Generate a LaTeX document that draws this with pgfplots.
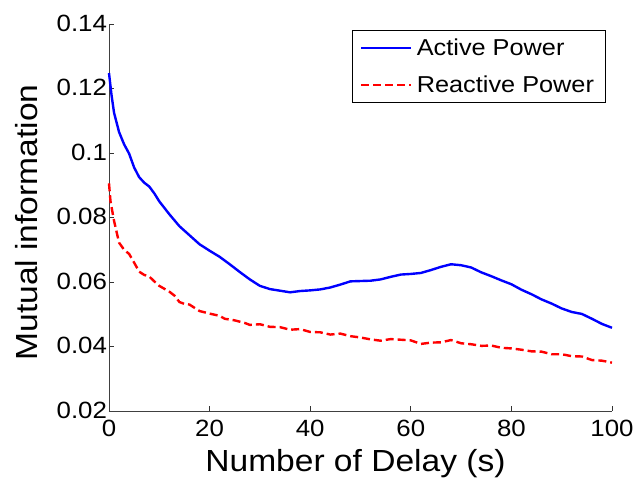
\documentclass[border=0pt]{standalone}
\usepackage{pgfplots}
\pgfplotsset{compat=1.18}
\usepackage{pgfplotstable}
\usepackage{fontspec}
\setmainfont[FakeStretch=1.1]{Liberation Sans}
\pgfplotstableread{
x y
0 0.1248
0.5 0.1180
1 0.1125
2 0.1065
3 0.1027
4 0.0998
5 0.0955
6 0.0925
7 0.0908
8 0.0896
9 0.0875
10 0.0850
12 0.0810
14 0.0773
16 0.0745
18 0.0717
20 0.0697
22 0.0678
24 0.0655
26 0.0631
28 0.0608
30 0.0588
32 0.0578
34 0.0573
36 0.0568
38 0.0572
40 0.0574
42 0.0577
44 0.0583
46 0.0592
48 0.0602
50 0.0603
52 0.0604
54 0.0608
56 0.0616
58 0.0623
60 0.0625
62 0.0628
64 0.0637
66 0.0647
68 0.0655
70 0.0652
72 0.0645
74 0.0630
76 0.0618
78 0.0605
80 0.0593
82 0.0576
84 0.0562
86 0.0546
88 0.0533
90 0.0518
92 0.0507
94 0.0501
96 0.0486
98 0.0470
100 0.0458
}\activetab
\pgfplotstableread{
x y
0 0.0906
0.3 0.0850
1 0.0790
2 0.0722
3 0.0700
4 0.0687
5 0.0660
6 0.0632
7 0.0622
8 0.0617
9 0.0602
10 0.0588
12 0.0570
13 0.0558
14 0.0538
15 0.0532
16 0.0530
18 0.0510
20 0.0502
22 0.0495
23 0.0486
25 0.0481
27 0.0473
28 0.0467
30 0.0469
32 0.0461
34 0.0460
36 0.0452
38 0.0454
40 0.0445
42 0.0444
44 0.0437
46 0.0440
48 0.0432
50 0.0428
52 0.0422
54 0.0418
56 0.0423
58 0.0421
60 0.0419
62 0.0408
64 0.0412
66 0.0413
68 0.0420
70 0.0410
72 0.0407
74 0.0402
76 0.0403
78 0.0396
80 0.0394
82 0.0390
84 0.0385
86 0.0384
88 0.0376
90 0.0376
92 0.0370
94 0.0369
96 0.0358
98 0.0356
100 0.0350
}\reactivetab
\begin{document}
\begin{tikzpicture}
\begin{axis}[
  name=ax,
  scale only axis,
  width=503pt, height=387pt,
  xmin=0, xmax=100, ymin=0.02, ymax=0.14,
  axis x line=bottom, axis y line=left,
  axis line style={-, black!75, line width=0.9pt},
  tick align=inside,
  major tick length=5pt,
  tick style={black!80, line width=0.9pt},
  xtick={0,20,40,60,80,100},
  xticklabels={0,20,40,60,80,100},
  ytick={0.02,0.04,0.06,0.08,0.1,0.12,0.14},
  yticklabels={0.02,0.04,0.06,0.08,0.1,0.12,0.14},
  ticklabel style={font=\fontsize{23.5}{27}\selectfont},
  xticklabel style={yshift=-6pt},
  yticklabel style={xshift=1.5pt, yshift=1pt},
  /pgf/number format/assume math mode=true,
  xlabel={Number of Delay (s)},
  ylabel={Mutual information},
  xlabel style={font=\fontsize{30.5}{34}\selectfont, at={(axis description cs:0.490,-0.1576)}, anchor=base},
  ylabel style={font=\fontsize{30.5}{34}\selectfont, at={(axis description cs:-0.1431,0.487)}, anchor=base},
  legend style={at={(0.988,0.984)}, anchor=north east, draw=black, line width=0.9pt,
    font=\fontsize{23}{27}\selectfont, inner xsep=7pt, inner ysep=6pt, row sep=15pt,
    nodes={inner xsep=4.5pt}},
  legend cell align=left,
  legend image code/.code={\draw[#1] (0pt,0pt) -- (50pt,0pt);},
  clip=false,
]
\addplot[blue, line width=2.4pt] table[x=x,y=y] {\activetab};
\addlegendentry{Active Power}
\addplot[red, line width=2.4pt, dash pattern=on 8pt off 4pt] table[x=x,y=y] {\reactivetab};
\addlegendentry{Reactive Power}
\end{axis}
\pgfresetboundingbox
\path[use as bounding box] ([shift={(-109pt,-70pt)}]ax.south west) rectangle ([shift={(22pt,24pt)}]ax.north east);
\end{tikzpicture}
\end{document}
